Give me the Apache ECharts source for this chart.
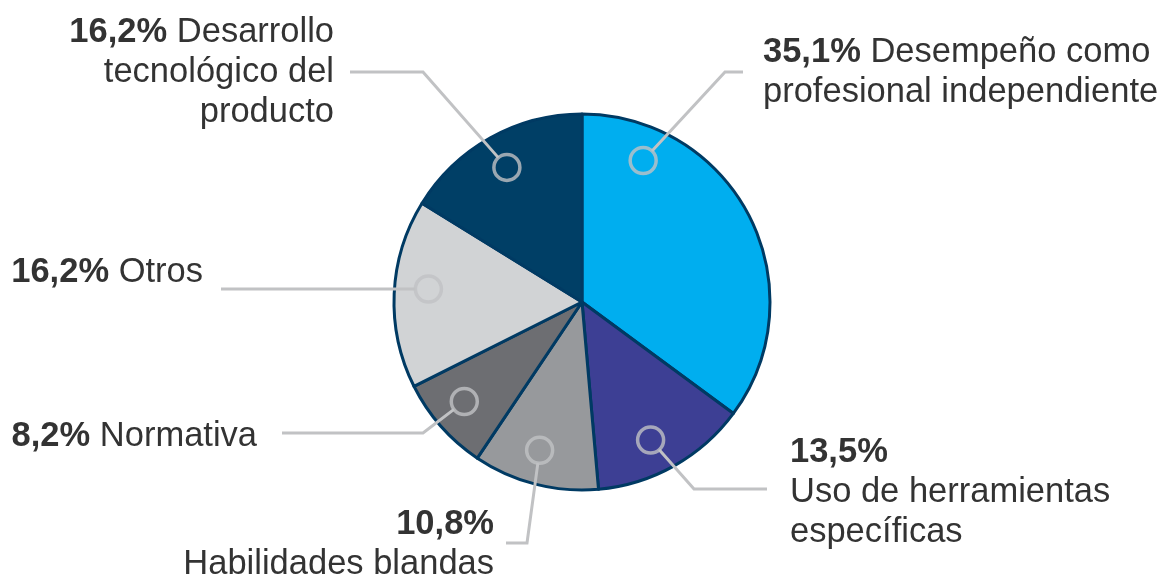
<!DOCTYPE html>
<html>
<head>
<meta charset="utf-8">
<script src="https://cdn.jsdelivr.net/npm/echarts@6/dist/echarts.min.js"></script>
<style>
  html, body { margin: 0; padding: 0; background: #fff; }
  #chart { width: 1162px; height: 574px; }
</style>
</head>
<body>
<div id="chart"></div>
<script>
// datos (%), en el orden de la torta desde las 12 en punto
var categories = [
  "Desempeño como\nprofesional independiente",
  "Uso de herramientas\nespecíficas",
  "Habilidades blandas",
  "Normativa",
  "Otros",
  "Desarrollo\ntecnológico del\nproducto"
];
var values = [35.1, 13.5, 10.8, 8.2, 16.2, 16.2];

var colors = ["#00aeef", "#3d3f94", "#97999c", "#6d6e72", "#d1d3d5", "#003f66"];
var pctBreak = [" ", "\n", "\n", " ", " ", " "]; // entre el % y el texto
var markAt = [0.185, 0.56, 0.54, 0.54, 0.54, 0.5]; // donde cae el circulito dentro de la porcion

// posicion de cada rotulo y quiebre de la linea guia
var labelPos = [
  { x: 763, y: 32, align: "left", bend: [725, 72], end: [743, 72] },
  { x: 790, y: 432, align: "left", bend: [694, 489], end: [767, 489] },
  { x: 494, y: 504, align: "right", bend: [527, 543], end: [506, 543] },
  { x: 257, y: 416, align: "right", bend: [423, 433], end: [282, 433] },
  { x: 203, y: 252, align: "right", bend: null, end: [221, 289] },
  { x: 334, y: 12, align: "right", bend: [423, 72], end: [350, 72] }
];

var CENTER = [582, 302];
var RADIUS = 188;
var MARK_R = 0.82;
var FONT = "Liberation Sans";
var GUIDE = "#c1c2c4";

function fmtPct(v) {
  return v.toFixed(1).replace(".", ",") + "%";
}

// angulo (en %) de cada circulito
var markData = [];
var acc = 0;
for (var i = 0; i < values.length; i++) {
  markData.push([MARK_R, acc + values[i] * markAt[i]]);
  acc += values[i];
}

var pieData = values.map(function (v, i) {
  return { name: categories[i], value: v };
});

var chart = echarts.init(document.getElementById("chart"));

var option = {
  animation: false,
  backgroundColor: "#fff",
  polar: { center: CENTER, radius: RADIUS },
  angleAxis: {
    type: "value", min: 0, max: 100, startAngle: 90, clockwise: true,
    axisLine: { show: false }, axisTick: { show: false },
    axisLabel: { show: false }, splitLine: { show: false }
  },
  radiusAxis: {
    type: "value", min: 0, max: 1,
    axisLine: { show: false }, axisTick: { show: false },
    axisLabel: { show: false }, splitLine: { show: false }
  },
  series: [
    {
      // la torta
      type: "pie",
      center: CENTER,
      radius: RADIUS,
      startAngle: 90,
      silent: true,
      z: 2,
      data: pieData.map(function (d, i) {
        return { name: d.name, value: d.value, itemStyle: { color: colors[i] } };
      }),
      itemStyle: { borderColor: "#003a63", borderWidth: 3 },
      label: { show: false },
      labelLine: { show: false }
    },
    {
      // copia transparente encima, solo para rotulos y guias
      type: "pie",
      center: CENTER,
      radius: RADIUS,
      startAngle: 90,
      silent: true,
      avoidLabelOverlap: false,
      z: 4,
      data: pieData,
      itemStyle: { color: "rgba(0,0,0,0)", borderWidth: 0 },
      label: {
        show: true,
        position: "outside",
        width: 440,
        overflow: "none",
        color: "#333",
        fontFamily: FONT,
        fontSize: 34.5,
        lineHeight: 40,
        formatter: function (p) {
          return "{b|" + fmtPct(values[p.dataIndex]) + "}" + pctBreak[p.dataIndex] + categories[p.dataIndex];
        },
        rich: {
          b: { fontFamily: FONT, fontSize: 34.5, lineHeight: 40, fontWeight: "bold", color: "#333" }
        }
      },
      labelLine: {
        show: true,
        lineStyle: { color: GUIDE, width: 3 }
      }
    },
    {
      type: "scatter",
      coordinateSystem: "polar",
      silent: true,
      z: 5,
      symbol: "circle",
      symbolSize: 26,
      itemStyle: { color: "rgba(0,0,0,0)", borderColor: GUIDE, borderWidth: 3.5 },
      data: markData
    }
  ]
};

chart.setOption(option);

// punto de partida de cada guia: borde del circulito
var guides = markData.map(function (d, i) {
  var c = chart.convertToPixel({ seriesIndex: 2 }, d);
  var lp = labelPos[i];
  var to = lp.bend || lp.end;
  var dx = to[0] - c[0], dy = to[1] - c[1];
  var len = Math.sqrt(dx * dx + dy * dy);
  var start = [c[0] + dx / len * 13, c[1] + dy / len * 13];
  return lp.bend ? [start, lp.bend, lp.end] : [start, lp.end];
});

chart.setOption({
  series: [{}, {
    labelLayout: function (params) {
      var lp = labelPos[params.dataIndex];
      return {
        x: lp.x,
        y: lp.y,
        align: lp.align,
        verticalAlign: "top",
        labelLinePoints: guides[params.dataIndex]
      };
    }
  }]
});
</script>
</body>
</html>
